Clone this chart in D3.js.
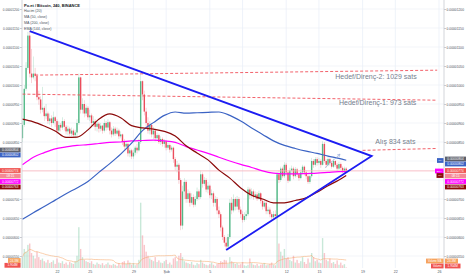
<!DOCTYPE html>
<html>
<head>
<meta charset="utf-8">
<script src="https://cdn.jsdelivr.net/npm/d3@7"></script>
<style>
  body { margin: 0; background: #fff; }
  svg { display: block; font-family: "Liberation Sans", Arial, sans-serif; }
</style>
</head>
<body>
<svg></svg>
<script>
var width = 466, height = 275;
var plotL = 22, plotR = 444, plotB = 268;

// 4h candles, Po.et / BTC in satoshi, first candle 18 Jan 2018 20:00
var firstOpen = 860;
var closes = [
  895, 990, 1045, 1130, 1030, 1020, 1030, 1024, 968, 962,
  935, 940, 918, 925, 905, 912, 900, 915, 905, 880,
  895, 888, 905, 890, 878, 885, 872, 880, 868, 875,
  900, 1020, 935, 950, 925, 940, 915, 920, 900, 905,
  890, 898, 885, 893, 880, 900, 888, 902, 880, 870,
  885, 872, 880, 865, 870, 850, 838, 845, 820, 828,
  812, 822, 835, 828, 850, 1010, 975, 930, 900, 880,
  895, 870, 880, 860, 868, 850, 858, 845, 852, 835,
  842, 830, 835, 805, 785, 790, 750, 630, 720, 745,
  700, 715, 690, 705, 685, 700, 720, 705, 765, 740,
  750, 725, 735, 710, 715, 690, 700, 670, 660, 625,
  600, 585, 575, 600, 690, 670, 700, 680, 700, 672,
  660, 645, 655, 660, 725, 710, 720, 705, 712, 700,
  715, 695, 680, 690, 668, 672, 660, 652, 660, 655,
  765, 750, 780, 760, 790, 770, 748, 775, 780, 760,
  778, 765, 755, 770, 785, 770, 760, 745, 760, 800,
  790, 805, 795, 800, 790, 845, 800, 790, 805, 795,
  785, 800, 790, 780, 792, 782, 772, 780, 774
];
var highs = [
  905, 1000, 1060, 1140, 1142, 1095, 1075, 1045, 1030, 985,
  970, 995, 945, 950, 930, 925, 920, 930, 918, 910,
  905, 900, 915, 910, 895, 893, 890, 888, 885, 882,
  910, 1030, 1022, 965, 960, 948, 945, 935, 925, 918,
  910, 905, 902, 900, 895, 910, 905, 910, 905, 888,
  892, 890, 888, 885, 878, 872, 858, 852, 848, 835,
  832, 830, 840, 845, 858, 1030, 1012, 985, 940, 915,
  905, 898, 890, 885, 875, 872, 865, 862, 858, 855,
  848, 846, 840, 838, 810, 800, 795, 755, 735, 755,
  750, 725, 720, 715, 712, 708, 730, 725, 775, 770,
  758, 755, 745, 738, 725, 720, 708, 705, 680, 665,
  630, 605, 598, 608, 700, 705, 712, 705, 708, 705,
  680, 668, 665, 670, 732, 730, 728, 725, 720, 718,
  722, 718, 700, 698, 695, 680, 678, 665, 668, 670,
  772, 775, 785, 785, 797, 795, 775, 782, 788, 785,
  784, 782, 770, 778, 790, 788, 775, 765, 765, 808,
  805, 810, 810, 808, 805, 852, 850, 805, 810, 808,
  800, 806, 802, 795, 798, 796, 786, 785, 784
];
var lows = [
  850, 890, 985, 1040, 1020, 1005, 1015, 1010, 960, 948,
  925, 928, 905, 910, 898, 895, 890, 896, 890, 872,
  875, 878, 882, 880, 870, 868, 866, 865, 862, 860,
  866, 895, 925, 925, 915, 918, 908, 905, 892, 890,
  880, 878, 875, 878, 872, 875, 880, 882, 870, 862,
  865, 866, 868, 858, 860, 842, 830, 832, 812, 810,
  805, 806, 815, 820, 825, 845, 960, 920, 890, 872,
  870, 862, 858, 852, 855, 845, 842, 838, 835, 828,
  830, 822, 825, 795, 775, 770, 740, 618, 620, 700,
  690, 690, 680, 685, 678, 680, 695, 698, 700, 730,
  735, 718, 715, 702, 700, 680, 680, 660, 650, 615,
  592, 575, 566, 568, 595, 660, 665, 670, 672, 665,
  650, 638, 640, 645, 655, 700, 702, 698, 700, 695,
  698, 688, 672, 675, 660, 660, 652, 645, 648, 650,
  652, 742, 745, 755, 755, 762, 742, 745, 765, 752,
  756, 758, 748, 752, 765, 762, 752, 740, 740, 755,
  782, 785, 788, 790, 782, 788, 795, 782, 786, 788,
  780, 782, 785, 772, 776, 775, 768, 768, 770
];
// volume in millions
var volumes = [
  40, 70, 60, 85, 90, 55, 45, 35, 60, 40, 30,
  35, 25, 20, 30, 18, 22, 28, 15, 35, 20,
  18, 25, 15, 20, 12, 22, 18, 15, 25, 45,
  150,
  70, 40, 30, 25, 22, 18, 25, 15, 12,
  20, 15, 12, 18, 10, 14, 20, 12, 10, 15,
  12, 8, 18, 10, 22, 25, 15, 28, 20, 12, 18, 10, 14,
  30, 240, 120, 85, 60, 45, 35,
  30, 25, 40, 22, 28, 20, 18, 25, 30, 15, 20, 12, 35, 40, 25, 45,
  55, 40, 25, 20, 18, 15, 22, 12, 10, 18, 14, 30, 20, 15, 12,
  10, 14, 20, 12, 8, 15, 18, 25, 22, 30, 28, 15,
  40, 25, 20, 15, 18, 12, 14, 22, 10, 8, 12, 35, 18, 12, 10, 15, 8, 12, 14, 18, 10, 12, 15, 20, 12, 10,
  200, 90, 60, 45, 70, 35, 40, 30, 25, 45, 20, 30, 18, 25, 40, 22, 15, 35, 20, 55, 40, 25, 30, 20, 18,
  110, 55, 30, 25, 35, 18, 22, 15, 28, 12, 20, 10, 14, 1.9
];

// indicator lines, one value per day (every 6th candle) + last candle
var ma50 = [910, 903, 892, 879, 862, 863, 882, 910, 924, 914, 893, 887, 884, 878, 866, 840,
  821, 803, 776, 755, 729, 710, 700, 690, 690, 696, 703, 718, 735, 750, 762];
var ma200 = [647, 664, 680, 697, 714, 729, 746, 770, 793, 818, 847, 880, 901, 920, 929, 926,
  927, 928, 929, 920, 905, 887, 870, 853, 841, 833, 826, 820, 813, 807, 802];
var ema144 = [790, 810, 822, 832, 837, 841, 843, 846, 849, 850, 853, 854, 855, 853, 849, 838,
  829, 820, 810, 800, 791, 783, 774, 768, 766, 766, 767, 768, 770, 772, 772];

// drawings: [candle index, price]
var triangle = [[4, 1142], [192, 813], [112, 566]];
var levelNames = ["Hedef/Direnç-2: 1029 sats", "Hedef/Direnç-1: 973 sats", "Alış 834 sats"];
var levelStart = [[7, 1026], [0, 976], [187, 828]];
var levelEnd = [[228, 1039], [228, 960], [228, 833]];
var levelText = [[172, 1021], [174, 953], [194, 850]];
var arrowPts = [[166.3, 782], [174.6, 818]];

var priceTicks = [550, 600, 650, 700, 850, 900, 950, 1000, 1050, 1100, 1150, 1200];
var gridTicks = [550, 600, 650, 700, 750, 800, 850, 900, 950, 1000, 1050, 1100, 1150, 1200];
var dateTicks = ["2018-01-22", "2018-01-25", "2018-01-29", "2018-02-01", "2018-02-05", "2018-02-08",
  "2018-02-12", "2018-02-15", "2018-02-19", "2018-02-22", "2018-02-26"];
var dateLabels = ["22", "25", "29", "Şub", "5", "8", "12", "15", "19", "22", "26"];

var upC = "#53b987", downC = "#eb4d5c";
var t0 = Date.UTC(2018, 0, 18, 20);
function tAt(i) { return new Date(t0 + i * 4 * 3600e3); }

var x = d3.scaleUtc().domain([Date.UTC(2018, 0, 22), Date.UTC(2018, 1, 26)]).range([57, 439]);
var y = d3.scaleLinear().domain([550, 1200]).range([256, 9]);
var yv = d3.scaleLinear().domain([0, 250]).range([plotB, plotB - 68]);
var fmt = function(v) { return d3.format(".8f")(v / 1e8); };

var svg = d3.select("svg").attr("width", width).attr("height", height);
svg.append("defs").append("clipPath").attr("id", "plot")
  .append("rect").attr("x", plotL).attr("y", 0).attr("width", plotR - plotL).attr("height", plotB);

var dates = dateTicks.map(function(s) { return new Date(s + "T00:00:00Z"); });

// grid
var grid = svg.append("g").attr("clip-path", "url(#plot)");
grid.selectAll(".hg").data(gridTicks).enter().append("line")
  .attr("x1", plotL).attr("x2", plotR)
  .attr("y1", function(d) { return y(d); }).attr("y2", function(d) { return y(d); })
  .attr("stroke", "#eef1f6").attr("stroke-width", 0.7);
grid.selectAll(".vg").data(dates).enter().append("line")
  .attr("x1", function(d) { return x(d); }).attr("x2", function(d) { return x(d); })
  .attr("y1", 0).attr("y2", plotB)
  .attr("stroke", "#e8eef8").attr("stroke-width", 0.7);

var candles = closes.map(function(c, i) {
  var o = i === 0 ? firstOpen : closes[i - 1];
  return { i: i, t: tAt(i), o: o, c: c, h: Math.max(highs[i], o, c), l: Math.min(lows[i], o, c), v: volumes[i] };
});

var plot = svg.append("g").attr("clip-path", "url(#plot)");

// volume
plot.selectAll(".vol").data(candles).enter().append("rect")
  .attr("x", function(d) { return x(d.t) - 0.7; })
  .attr("width", 1.4)
  .attr("y", function(d) { return yv(d.v); })
  .attr("height", function(d) { return plotB - yv(d.v); })
  .attr("fill", function(d) { return d.c >= d.o ? upC : downC; })
  .attr("opacity", 0.32);

var volMA = candles.map(function(d, i) {
  var s = candles.slice(Math.max(0, i - 19), i + 1);
  return [d.t, d3.mean(s, function(e) { return e.v; })];
});
plot.append("path").datum(volMA)
  .attr("d", d3.line().x(function(d) { return x(d[0]); }).y(function(d) { return yv(d[1]); }))
  .attr("fill", "none").attr("stroke", "#f6a86a").attr("stroke-width", 0.9).attr("opacity", 0.6);

// candles
plot.selectAll(".wick").data(candles).enter().append("line")
  .attr("x1", function(d) { return x(d.t); }).attr("x2", function(d) { return x(d.t); })
  .attr("y1", function(d) { return y(d.h); }).attr("y2", function(d) { return y(d.l); })
  .attr("stroke", function(d) { return d.c >= d.o ? upC : downC; })
  .attr("stroke-width", 0.5).attr("opacity", 0.5);
plot.selectAll(".body").data(candles).enter().append("rect")
  .attr("x", function(d) { return x(d.t) - 0.7; })
  .attr("width", 1.4)
  .attr("y", function(d) { return y(Math.max(d.o, d.c)); })
  .attr("height", function(d) { return Math.max(0.6, Math.abs(y(d.o) - y(d.c))); })
  .attr("fill", function(d) { return d.c >= d.o ? upC : downC; });

// current price line
var last = closes[closes.length - 1];
plot.append("line").attr("x1", plotL).attr("x2", plotR)
  .attr("y1", y(last)).attr("y2", y(last))
  .attr("stroke", "#f7b8c1").attr("stroke-width", 0.9);

// moving averages
var maIdx = d3.range(0, 175, 6).concat([178]);
var maLine = d3.line()
  .x(function(d, k) { return x(tAt(maIdx[k])); })
  .y(function(d) { return y(d); })
  .curve(d3.curveMonotoneX);
[[ema144, "#ff00ff"], [ma200, "#3b63c4"], [ma50, "#8b0a0a"]].forEach(function(m) {
  plot.append("path").datum(m[0]).attr("d", maLine)
    .attr("fill", "none").attr("stroke", m[1]).attr("stroke-width", 1.2);
});

// drawings
function px(p) { return x(tAt(p[0])); }
function py(p) { return y(p[1]); }
levelStart.forEach(function(s, k) {
  plot.append("line")
    .attr("x1", px(s)).attr("y1", py(s)).attr("x2", px(levelEnd[k])).attr("y2", py(levelEnd[k]))
    .attr("stroke", "#f0505a").attr("stroke-width", 0.9).attr("stroke-dasharray", "3,2");
  plot.append("text")
    .attr("x", px(levelText[k])).attr("y", py(levelText[k]))
    .attr("dy", "0.35em").attr("font-size", 7).attr("fill", "#76808e")
    .text(levelNames[k]);
});
plot.append("path").datum(triangle)
  .attr("d", d3.line().x(px).y(py))
  .attr("fill", "none").attr("stroke", "#1c1cf2").attr("stroke-width", 1.8);

var a0 = [px(arrowPts[0]), py(arrowPts[0])], a1 = [px(arrowPts[1]), py(arrowPts[1])];
var ang = Math.atan2(a1[1] - a0[1], a1[0] - a0[0]);
plot.append("line").attr("x1", a0[0]).attr("y1", a0[1]).attr("x2", a1[0]).attr("y2", a1[1])
  .attr("stroke", "#8fa3d3").attr("stroke-width", 0.6);
[-0.5, 0.5].forEach(function(da) {
  plot.append("line").attr("x1", a1[0]).attr("y1", a1[1])
    .attr("x2", a1[0] - 3 * Math.cos(ang + da)).attr("y2", a1[1] - 3 * Math.sin(ang + da))
    .attr("stroke", "#8fa3d3").attr("stroke-width", 0.6);
});

// axes
var axL = svg.append("g").attr("transform", "translate(" + plotL + ",0)")
  .call(d3.axisLeft(y).tickValues(priceTicks).tickFormat(fmt).tickSize(2).tickPadding(0.8));
var axR = svg.append("g").attr("transform", "translate(" + plotR + ",0)")
  .call(d3.axisRight(y).tickValues(priceTicks).tickFormat(fmt).tickSize(2).tickPadding(0.6));
[axL, axR].forEach(function(ax) {
  ax.select(".domain").attr("d", "M0,0V" + plotB).attr("stroke", "#c8cad0").attr("stroke-width", 0.8);
  ax.selectAll(".tick line").attr("stroke", "#c8cad0");
  ax.selectAll("text").attr("fill", "#4c525e").attr("font-family", "Liberation Sans, Arial, sans-serif");
});
axL.selectAll("text").attr("font-size", 3.1);
axR.selectAll("text").attr("font-size", 3.3);

var axB = svg.append("g").attr("transform", "translate(0," + plotB + ")")
  .call(d3.axisBottom(x).tickValues(dates).tickSize(0).tickPadding(2.2)
    .tickFormat(function(d, k) { return dateLabels[k]; }));
axB.select(".domain").remove();
axB.selectAll("text").attr("font-size", 3.6).attr("fill", "#4c525e")
  .attr("font-family", "Liberation Sans, Arial, sans-serif");

// price label boxes
function box(x0, w, yc, fill, label, col, fs) {
  svg.append("rect").attr("x", x0).attr("y", yc - 2.4).attr("width", w).attr("height", 4.8)
    .attr("fill", fill);
  svg.append("text").attr("x", x0 + w / 2).attr("y", yc).attr("dy", "0.35em")
    .attr("text-anchor", "middle").attr("font-size", fs || 3.1).attr("fill", col || "#fff")
    .text(label);
}
var boxColors = ["#5d606b", "#3b63c4", "#ef5350", "#f48a96", "#ff00ff", "#8b0a0a"];
var boxTexts = [fmt(804), fmt(802), fmt(last), "08:15", fmt(772), fmt(763)];
var boxYLeft = [150, 155, 170.5, 176, 181.5, 187];
var boxYRight = [159, 164, 170.5, 176, 181.5, 187];
boxTexts.forEach(function(t, k) {
  box(0, 20.6, boxYLeft[k], boxColors[k], t);
  box(445, 21, boxYRight[k], boxColors[k], t);
});
// tags beside right axis
box(437, 6.5, 160.5, "#3b63c4", "MA", "#fff", 2.4);
box(435, 8.5, 171, "#ff00ff", "EMA", "#fff", 2.4);
box(436.5, 7, 175.5, "#8b0a0a", "MA", "#fff", 2.4);

// volume labels
box(8, 12.6, 260.5, "#f6a35e", "24.3M");
box(4.5, 16.1, 265.3, "#ef5350", "1.904M");
box(426, 17.5, 261, "#f6a35e", "Volume MA", "#fff", 2.6);
box(445, 13, 261, "#f6a35e", "24.3M");
box(431, 12.5, 266, "#ef5350", "Volume", "#fff", 2.6);
box(445, 15.5, 266, "#ef5350", "1.904M");

// legend
var legend = ["Hacim (20)", "MA (50, close)", "MA (200, close)", "EMA (144, close)"];
svg.append("text").attr("x", 24).attr("y", 6.8).attr("font-size", 4).attr("font-weight", "bold")
  .attr("fill", "#131722").text("Po.et / Bitcoin, 240, BINANCE");
legend.forEach(function(s, k) {
  svg.append("text").attr("x", 24).attr("y", 12.4 + k * 5.7).attr("font-size", 3.6)
    .attr("fill", "#4c525e").text(s);
});
</script>
</body>
</html>
